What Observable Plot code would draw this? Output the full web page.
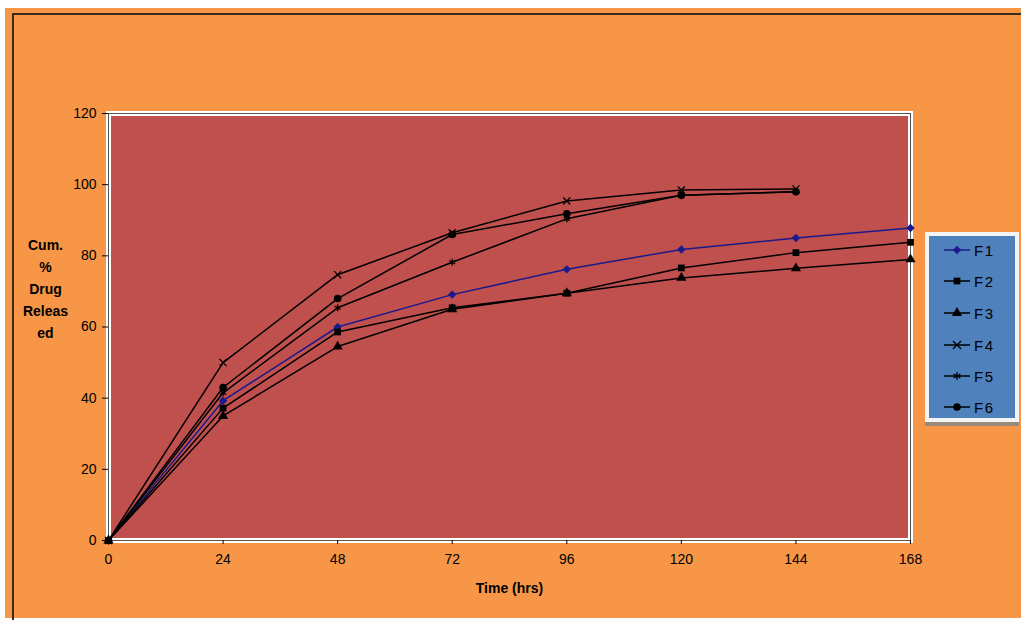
<!DOCTYPE html>
<html>
<head>
<meta charset="utf-8">
<script src="https://cdn.jsdelivr.net/npm/d3@7"></script>
<script src="https://cdn.jsdelivr.net/npm/@observablehq/plot@0.6"></script>
<style>
  html, body { margin: 0; padding: 0; background: #ffffff; }
  #page { position: relative; width: 1021px; height: 620px; overflow: hidden; }
  #bg { position: absolute; left: 5px; top: 8px; width: 1016px; height: 610px; background: #F79646; }
  #border { position: absolute; left: 12px; top: 13px; width: 1020px; height: 700px; border-left: 2px solid #3a2a1a; border-top: 2px solid #3a2a1a; }
  #chart { position: absolute; left: 0; top: 0; }
  #legend { position: absolute; left: 925px; top: 232px; width: 86px; height: 182px; background: #4F81BD; border: 4px solid #f4f4f4; box-shadow: 0 4px 0 #9a8a7a; font-family: "Liberation Sans", Arial, sans-serif; font-size: 15px; color: #000; }
  .item { position: absolute; left: 0; height: 20px; display: flex; align-items: center; }
  .item svg { margin-left: 13px; }
  .item span { margin-left: 2px; letter-spacing: 1.5px; }
</style>
</head>
<body>
<div id="page">
  <div id="bg"></div>
  <div id="border"></div>
  <div id="chart"></div>
  <div id="legend"></div>
</div>
<script>
// ---- data ----
const time = [0, 24, 48, 72, 96, 120, 144, 168];
const seriesNames = ["F1", "F2", "F3", "F4", "F5", "F6"];
const F1 = [0, 39.3, 60.0, 69.1, 76.2, 81.8, 85.0, 87.8];
const F2 = [0, 37.2, 58.6, 65.4, 69.5, 76.6, 80.9, 83.8];
const F3 = [0, 35.0, 54.5, 65.0, 69.5, 73.8, 76.5, 79.0];
const F4 = [0, 50.0, 74.7, 86.5, 95.4, 98.5, 98.8];
const F5 = [0, 41.5, 65.4, 78.2, 90.4, 97.0, 98.0];
const F6 = [0, 43.0, 68.0, 86.0, 91.8, 97.0, 98.0];
const xTicks = [0, 24, 48, 72, 96, 120, 144, 168];
const yTicks = [0, 20, 40, 60, 80, 100, 120];

const seriesValues = {F1, F2, F3, F4, F5, F6};
const colors = {F1: "#1a1a8c", F2: "#000", F3: "#000", F4: "#000", F5: "#000", F6: "#000"};
const symbols = {F1: "diamond2", F2: "square", F3: "triangle", F4: "times", F5: "asterisk", F6: "circle"};
const filled = {F1: true, F2: true, F3: true, F4: false, F5: false, F6: true};

const rows = [];
for (const s of seriesNames) {
  seriesValues[s].forEach((v, i) => rows.push({series: s, time: time[i], value: v}));
}

const marks = [
  Plot.frame({fill: "#C0504D", stroke: "#ffffff", strokeWidth: 5}),
  Plot.frame({stroke: "#555", strokeWidth: 1}),
  Plot.axisX({ticks: xTicks, tickSize: 4, tickPadding: 10, label: null, fontSize: 14}),
  Plot.axisY({ticks: yTicks, tickSize: 6, tickPadding: 6, label: null, fontSize: 14}),
  Plot.text(["Time (hrs)"], {frameAnchor: "bottom", dy: 52, fontWeight: "bold", fontSize: 14}),
  Plot.text(["Cum.\n%\nDrug\nReleas\ned"], {frameAnchor: "left", dx: -63, dy: -40, textAnchor: "middle", lineHeight: 1.58, fontWeight: "bold", fontSize: 14})
];
for (const s of seriesNames) {
  const d = rows.filter(r => r.series === s);
  marks.push(Plot.line(d, {x: "time", y: "value", stroke: colors[s], strokeWidth: 1.5}));
}
for (const s of seriesNames) {
  const d = rows.filter(r => r.series === s);
  if (filled[s]) {
    marks.push(Plot.dot(d, {x: "time", y: "value", symbol: () => symbols[s], fill: colors[s], r: 3.8}));
  } else {
    marks.push(Plot.dot(d, {x: "time", y: "value", symbol: () => symbols[s], stroke: colors[s], strokeWidth: 1.3, r: 3.3}));
  }
}

const chart = Plot.plot({
  width: 1021,
  height: 620,
  marginLeft: 108,
  marginRight: 111,
  marginTop: 113,
  marginBottom: 80,
  style: {background: "transparent", fontFamily: "'Liberation Sans Narrow', 'Liberation Sans', Arial, sans-serif", fontSize: "14px", color: "#000", overflow: "visible"},
  x: {domain: [0, 168]},
  y: {domain: [0, 120]},
  symbol: {domain: seriesNames, range: seriesNames.map(s => symbols[s])},
  marks
});
document.getElementById("chart").appendChild(chart);

// ---- legend ----
const legend = document.getElementById("legend");
const itemTops = [4, 35, 67, 99, 130, 161];
seriesNames.forEach((s, i) => {
  const div = document.createElement("div");
  div.className = "item";
  div.style.top = (itemTops[i]) + "px";
  const svg = d3.create("svg").attr("width", 30).attr("height", 20);
  svg.append("line").attr("x1", 2).attr("x2", 28).attr("y1", 10).attr("y2", 10).attr("stroke", colors[s]).attr("stroke-width", 1.5);
  const symMap = {diamond2: d3.symbolDiamond2, square: d3.symbolSquare, triangle: d3.symbolTriangle, times: d3.symbolTimes, asterisk: d3.symbolAsterisk, circle: d3.symbolCircle};
  const path = svg.append("path").attr("transform", "translate(15,10)").attr("d", d3.symbol(symMap[symbols[s]], 45)());
  if (filled[s]) path.attr("fill", colors[s]); else path.attr("fill", "none").attr("stroke", colors[s]).attr("stroke-width", 1.3);
  div.appendChild(svg.node());
  const span = document.createElement("span");
  span.textContent = s;
  div.appendChild(span);
  legend.appendChild(div);
});
</script>
</body>
</html>
